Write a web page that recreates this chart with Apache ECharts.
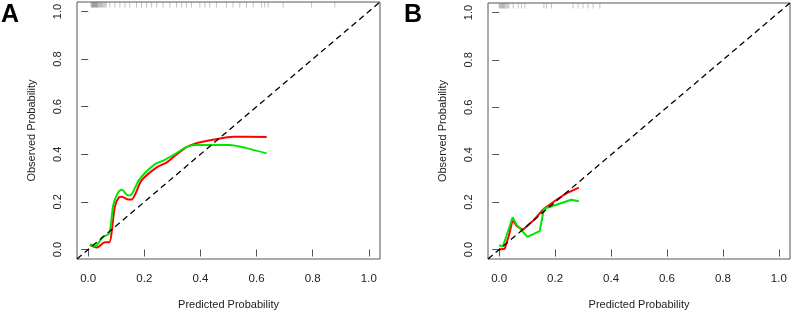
<!DOCTYPE html>
<html>
<head>
<meta charset="utf-8">
<script src="https://cdn.jsdelivr.net/npm/echarts@6/dist/echarts.min.js"></script>
<style>
    html, body { margin: 0; padding: 0; background: #fff; }
    #chart { width: 792px; height: 315px; }
</style>
</head>
<body>
<div id="chart"></div>
<script>
    // 刻度
    var tickValues = [0, 0.2, 0.4, 0.6, 0.8, 1.0];
    var axisRange = [-0.04, 1.04];
    var diagonal = [-0.04, 1.04];

    // A 图: 校准曲线 [预测, 观察]
    var aRedX = [0.006, 0.03, 0.06, 0.075, 0.095, 0.11, 0.12, 0.143, 0.155, 0.19, 0.244, 0.28, 0.309, 0.35, 0.386, 0.445, 0.517, 0.636];
    var aRedY = [0.018, 0.008, 0.03, 0.03, 0.18, 0.22, 0.222, 0.21, 0.21, 0.29, 0.345, 0.366, 0.394, 0.43, 0.447, 0.461, 0.474, 0.473];
    var aGreenX = [0.006, 0.024, 0.053, 0.075, 0.089, 0.107, 0.119, 0.143, 0.155, 0.184, 0.238, 0.267, 0.309, 0.35, 0.386, 0.445, 0.505, 0.564, 0.636];
    var aGreenY = [0.022, 0.014, 0.053, 0.067, 0.185, 0.241, 0.251, 0.227, 0.232, 0.297, 0.359, 0.373, 0.401, 0.43, 0.439, 0.439, 0.439, 0.426, 0.404];
    // A 图顶部 rug
    var aRug = [0.010, 0.013, 0.015, 0.017, 0.019, 0.021, 0.023, 0.025, 0.027, 0.029, 0.031, 0.033, 0.036, 0.039, 0.042, 0.045, 0.048, 0.052, 0.056, 0.060, 0.064,
        0.077, 0.095, 0.113, 0.131, 0.148, 0.172, 0.19, 0.208, 0.226, 0.244, 0.267, 0.291, 0.315, 0.333, 0.35, 0.368, 0.398, 0.416, 0.433, 0.457,
        0.493, 0.516, 0.54, 0.564, 0.588, 0.618, 0.629, 0.641, 0.695, 0.796, 0.879];

    // B 图
    var bRedX = [0.0, 0.02, 0.035, 0.048, 0.062, 0.085, 0.12, 0.16, 0.205, 0.24, 0.285];
    var bRedY = [0.0, 0.003, 0.06, 0.125, 0.1, 0.083, 0.12, 0.172, 0.21, 0.237, 0.261];
    var bGreenX = [0.0, 0.013, 0.026, 0.048, 0.062, 0.101, 0.145, 0.16, 0.205, 0.258, 0.285];
    var bGreenY = [0.018, 0.013, 0.057, 0.136, 0.105, 0.053, 0.078, 0.172, 0.189, 0.21, 0.204];
    var bRug = [0.0, 0.003, 0.006, 0.009, 0.012, 0.015, 0.018, 0.021, 0.025, 0.03, 0.035,
        0.05, 0.068, 0.08, 0.092, 0.16, 0.169, 0.187, 0.264, 0.282, 0.3, 0.318, 0.336, 0.36];

    function pairs(xs, ys) {
        return xs.map(function (x, i) { return [x, ys[i]]; });
    }

    function axis(idx, isY, name) {
        return {
            type: 'value',
            gridIndex: idx,
            min: axisRange[0],
            max: axisRange[1],
            name: name,
            nameLocation: 'middle',
            nameGap: 40,
            nameRotate: isY ? 90 : 0,
            nameTextStyle: { color: '#222', fontSize: 11, fontFamily: 'Liberation Sans' },
            splitLine: { show: false },
            axisLine: { show: false },
            axisTick: {
                show: true,
                customValues: tickValues,
                length: 7,
                lineStyle: { color: '#555' }
            },
            axisLabel: {
                customValues: tickValues,
                margin: 14,
                rotate: isY ? 90 : 0,
                color: '#222',
                fontSize: isY ? 11 : 11.5,
                fontFamily: 'Liberation Sans',
                formatter: function (v) { return v.toFixed(1); }
            }
        };
    }

    function curve(x, y, xs, ys, color, smooth) {
        return {
            type: 'line',
            xAxisIndex: x,
            yAxisIndex: y,
            data: pairs(xs, ys),
            showSymbol: false,
            smooth: smooth,
            lineStyle: { color: color, width: 2 },
            z: 3
        };
    }

    function diag(i) {
        return {
            type: 'line',
            xAxisIndex: i,
            yAxisIndex: i,
            data: pairs(diagonal, diagonal),
            showSymbol: false,
            lineStyle: { color: '#000', width: 1.3, type: [6, 4] },
            z: 4
        };
    }

    function rug(i, vals) {
        return {
            type: 'scatter',
            xAxisIndex: i,
            yAxisIndex: i,
            data: vals.map(function (v) { return [v, axisRange[1]]; }),
            symbol: 'rect',
            symbolSize: [1, 5],
            symbolOffset: [0, 3],
            clip: false,
            itemStyle: { color: 'rgba(0,0,0,0.3)' },
            silent: true
        };
    }

    var myChart = echarts.init(document.getElementById('chart'));
    var option = {
        animation: false,
        backgroundColor: '#fff',
        grid: [
            { left: 77, top: 2, width: 303, height: 258, show: true, borderColor: '#555', borderWidth: 1 },
            { left: 488, top: 3, width: 302, height: 258, show: true, borderColor: '#555', borderWidth: 1 }
        ],
        xAxis: [axis(0, false, 'Predicted Probability'), axis(1, false, 'Predicted Probability')],
        yAxis: [axis(0, true, 'Observed Probability'), axis(1, true, 'Observed Probability')],
        graphic: [
            { type: 'text', left: 1, top: 3, style: { text: 'A', fontSize: 25, fontWeight: 'bold', fontFamily: 'Liberation Sans', fill: '#000' } },
            { type: 'text', left: 404, top: 3, style: { text: 'B', fontSize: 25, fontWeight: 'bold', fontFamily: 'Liberation Sans', fill: '#000' } }
        ],
        series: [
            rug(0, aRug),
            diag(0),
            curve(0, 0, aRedX, aRedY, '#ff0000', 0.25),
            curve(0, 0, aGreenX, aGreenY, '#00e600', 0.25),
            rug(1, bRug),
            diag(1),
            curve(1, 1, bRedX, bRedY, '#ff0000', false),
            curve(1, 1, bGreenX, bGreenY, '#00e600', false)
        ]
    };
    myChart.setOption(option);
</script>
</body>
</html>
